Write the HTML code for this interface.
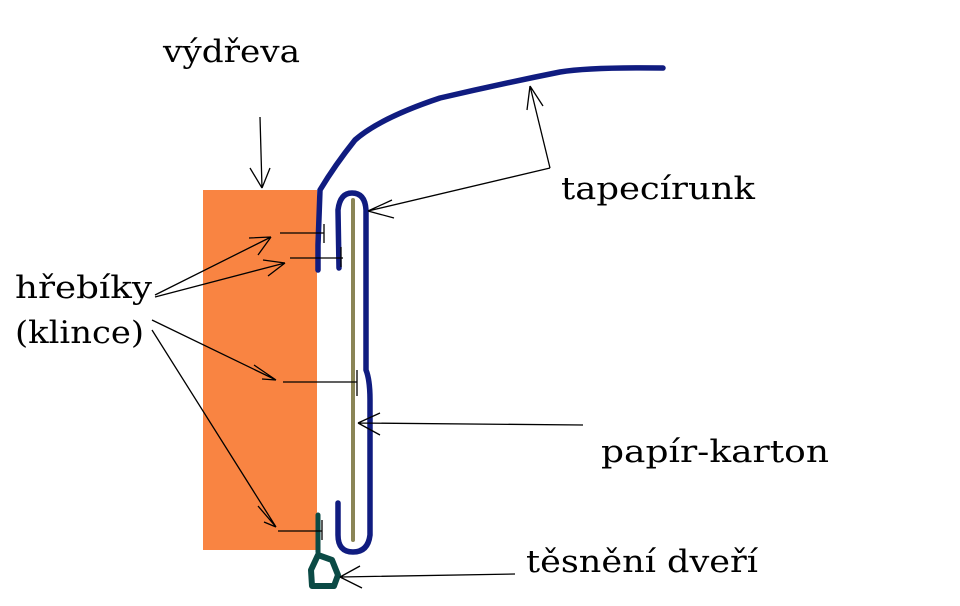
<!DOCTYPE html>
<html><head><style>body{margin:0;background:#fff}svg{display:block}text{font-family:"DejaVu Serif","Liberation Serif",serif;font-size:31px;fill:#000}</style></head><body>
<svg width="960" height="606" viewBox="0 0 960 606">
<rect x="203" y="190" width="114" height="360" fill="#f98442"/>
<g fill="none" stroke-linecap="round" stroke-linejoin="round">
<path d="M318,270 L318,245 L320,190 Q335,165 355,140 Q380,118 440,98 Q500,84 560,72 Q590,67 663,68" stroke="#101c80" stroke-width="5.5"/>
<path d="M339,268 L338,210 Q340,193 352,193 Q365,193 366,210 L366,370 Q370,380 370,400 L370,535 Q368,552 353,552 Q338,552 338,535 L338,503" stroke="#101c80" stroke-width="5.5"/>
<line x1="353" y1="200" x2="353" y2="540" stroke="#8a8556" stroke-width="4"/>
<path d="M318,515 L318,552" stroke="#0b4a45" stroke-width="5"/>
<path d="M318,555 L332,560 L338,575 L334,586 L312,586 L311,570 Z" stroke="#0b4a45" stroke-width="6"/>
</g>
<g stroke="#000" stroke-width="1.3" fill="none">
<path d="M280,233 L324,233 M324,224 L324,243"/>
<path d="M290,258 L343,258 M341,247 L341,267"/>
<path d="M283,382 L357,382 M357,370 L357,396"/>
<path d="M278,531 L322,531 M322,520 L322,540"/>
<path d="M260,117 L262,188 M250,168 L262,188 M270,168 L262,188"/>
<path d="M155,295 L271,237 M249,238 L271,237 M258,255 L271,237"/>
<path d="M155,297 L285,263 M263,260 L285,263 M268,276 L285,263"/>
<path d="M152,320 L276,380 M254,365 L276,380 M262,379 L276,380"/>
<path d="M152,330 L276,527 M258,506 L276,527 M264,522 L276,527"/>
<path d="M550,168 L530,86 M527,110 L530,86 M543,106 L530,86"/>
<path d="M550,168 L368,211 M392,200 L368,211 M394,218 L368,211"/>
<path d="M583,425 L358,423 M380,413 L358,423 M380,435 L358,423"/>
<path d="M515,574 L340,577 M360,566 L340,577 M362,588 L340,577"/>
</g>
<text x="163" y="62" textLength="137" lengthAdjust="spacingAndGlyphs">výdřeva</text>
<text x="561" y="199" textLength="194" lengthAdjust="spacingAndGlyphs">tapecírunk</text>
<text x="15" y="298" textLength="137" lengthAdjust="spacingAndGlyphs">hřebíky</text>
<text x="15" y="343" textLength="129" lengthAdjust="spacingAndGlyphs">(klince)</text>
<text x="601" y="462" textLength="228" lengthAdjust="spacingAndGlyphs">papír-karton</text>
<text x="526" y="572" textLength="232" lengthAdjust="spacingAndGlyphs">těsnění dveří</text>
</svg>
</body></html>
